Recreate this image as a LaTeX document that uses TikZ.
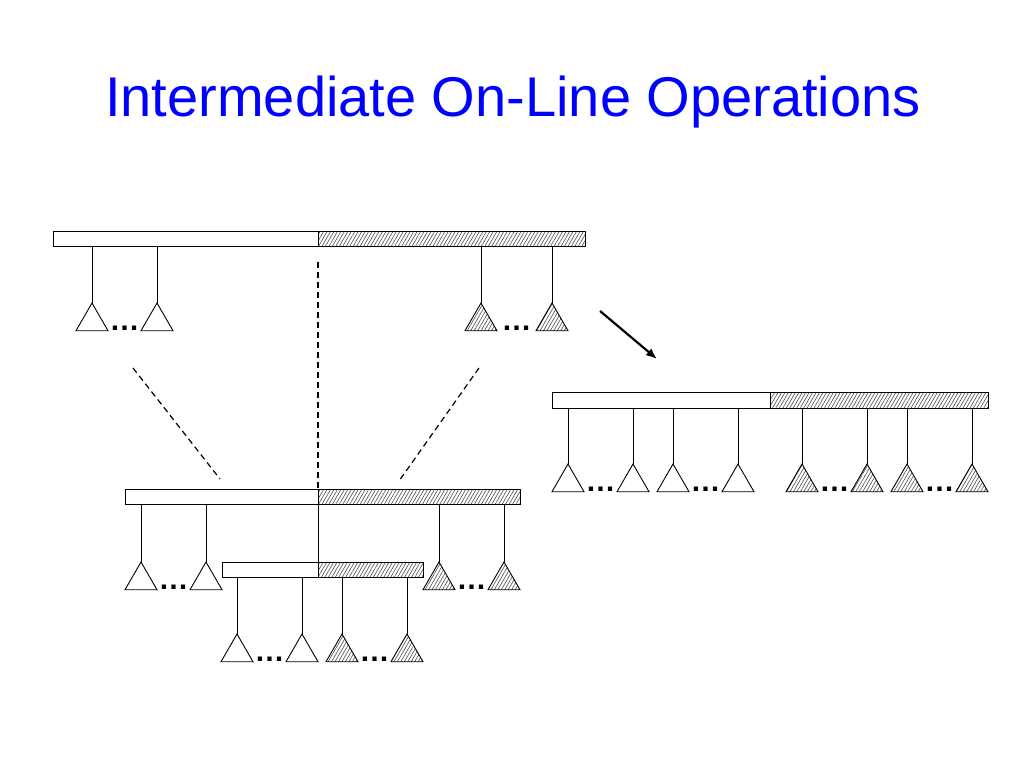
\documentclass[tikz,border=0pt]{standalone}
\usepackage{fontspec}
\setmainfont{Liberation Sans}
\usepackage{tikz}
\usetikzlibrary{shapes.geometric,patterns.meta,arrows.meta,positioning,calc}

\begin{document}
\begin{tikzpicture}[
    x=1pt, y=-1pt,
    bar/.style={rectangle, draw, line width=0.9pt, minimum height=15pt, inner sep=0pt, outer sep=0pt},
    hatchbar/.style={bar, pattern={Lines[angle=60,distance=3pt,line width=0.6pt]}, pattern color=black!70},
    leaf/.style={regular polygon, regular polygon sides=3, draw, line width=0.9pt, minimum size=37pt, inner sep=0pt, outer sep=0pt, anchor=north},
    hatchleaf/.style={leaf, pattern={Lines[angle=60,distance=3pt,line width=0.6pt]}, pattern color=black!70},
    stem/.style={draw, line width=0.9pt},
    gap/.style={font=\bfseries\fontsize{30}{30}\selectfont, inner sep=0pt, anchor=base},
    split/.style={draw, line width=1.2pt, dash pattern=on 6pt off 4pt}
]
\useasboundingbox (0,0) rectangle (1024,768);

% title
\node[text=blue, font=\fontsize{56}{60}\selectfont, anchor=base] (title) at (513,116) {Intermediate On-Line Operations};

% top tree
\node[bar, minimum width=265pt, anchor=north west] (tl) at (53,231) {};
\node[hatchbar, minimum width=267pt, right=0pt of tl] (tr) {};
\node[leaf] (a1) at (92,303) {};
\node[leaf] (a2) at (157,303) {};
\node[hatchleaf] (a3) at (481,303) {};
\node[hatchleaf] (a4) at (552,303) {};
\foreach \t in {a1,a2} \draw[stem] (\t.north |- tl.south) -- (\t.north);
\foreach \t in {a3,a4} \draw[stem] (\t.north |- tr.south) -- (\t.north);
\node[gap] at ($(a1.corner 3)!0.5!(a2.corner 2)$) {…};
\node[gap] at ($(a3.corner 3)!0.5!(a4.corner 2)$) {…};

% middle tree
\node[bar, minimum width=193pt, anchor=north west] (ml) at (125,489) {};
\node[hatchbar, minimum width=202pt, right=0pt of ml] (mr) {};
\node[leaf] (b1) at (141,562) {};
\node[leaf] (b2) at (206,562) {};
\node[hatchleaf] (b3) at (439,562) {};
\node[hatchleaf] (b4) at (504,562) {};
\foreach \t in {b1,b2} \draw[stem] (\t.north |- ml.south) -- (\t.north);
\foreach \t in {b3,b4} \draw[stem] (\t.north |- mr.south) -- (\t.north);
\node[gap] at ($(b1.corner 3)!0.5!(b2.corner 2)$) {…};
\node[gap] at ($(b3.corner 3)!0.5!(b4.corner 2)$) {…};

% lower tree
\node[bar, minimum width=96pt, anchor=north west] (ll) at (222,562) {};
\node[hatchbar, minimum width=105pt, right=0pt of ll] (lr) {};
\node[leaf] (c1) at (237,634) {};
\node[leaf] (c2) at (302,634) {};
\node[hatchleaf] (c3) at (342,634) {};
\node[hatchleaf] (c4) at (407,634) {};
\foreach \t in {c1,c2} \draw[stem] (\t.north |- ll.south) -- (\t.north);
\foreach \t in {c3,c4} \draw[stem] (\t.north |- lr.south) -- (\t.north);
\node[gap] at ($(c1.corner 3)!0.5!(c2.corner 2)$) {…};
\node[gap] at ($(c3.corner 3)!0.5!(c4.corner 2)$) {…};

% right tree
\node[bar, minimum width=218pt, minimum height=16pt, anchor=north west] (rl) at (552,392) {};
\node[hatchbar, minimum width=218pt, minimum height=16pt, right=0pt of rl] (rr) {};
\foreach \n/\x in {d1/568,d2/633,d3/673,d4/738} {
  \node[leaf] (\n) at (\x,464) {};
  \draw[stem] (\n.north |- rl.south) -- (\n.north);
}
\foreach \n/\x in {d5/802,d6/867,d7/907,d8/972} {
  \node[hatchleaf] (\n) at (\x,464) {};
  \draw[stem] (\n.north |- rr.south) -- (\n.north);
}
\node[gap] at ($(d1.corner 3)!0.5!(d2.corner 2)$) {…};
\node[gap] at ($(d3.corner 3)!0.5!(d4.corner 2)$) {…};
\node[gap] at ($(d5.corner 3)!0.5!(d6.corner 2)$) {…};
\node[gap] at ($(d7.corner 3)!0.5!(d8.corner 2)$) {…};

% split lines
\coordinate (vtop) at (318,262);
\coordinate (dl) at (133,368);
\coordinate (dlend) at (220,479);
\coordinate (dr) at (479,368);
\coordinate (drend) at (399,481);
\draw[split] (vtop) -- (ml.north east);
\draw[stem] (ml.north east) -- (ll.north east);
\draw[split] (dl) -- (dlend);
\draw[split] (dr) -- (drend);

% arrow
\coordinate (arrs) at (600,311);
\coordinate (arre) at (657,359);
\draw[-{Latex[length=11pt,width=9pt]}, line width=2.2pt] (arrs) -- (arre);
\end{tikzpicture}
\end{document}
